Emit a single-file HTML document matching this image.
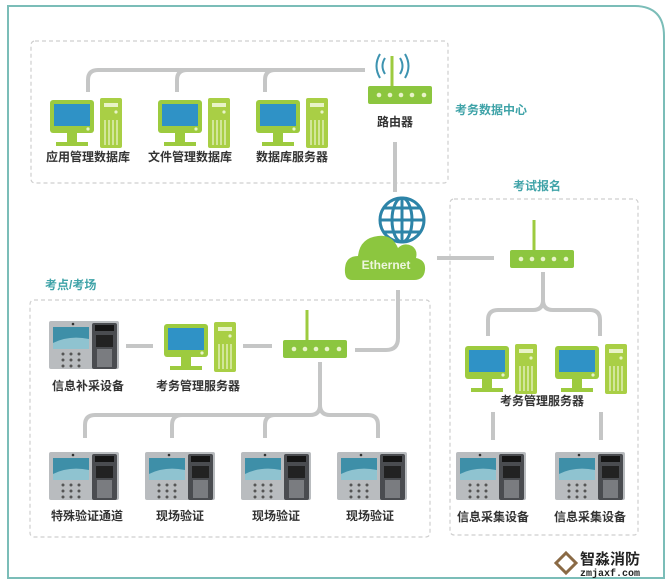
<!DOCTYPE html>
<html><head><meta charset="utf-8"><style>
html,body{margin:0;padding:0;background:#fff;}
svg{display:block;}
text{font-family:"Liberation Sans","Noto Sans CJK SC",sans-serif;}
text.mono{font-family:"Liberation Mono",monospace;}
</style></head><body>
<svg width="672" height="584" viewBox="0 0 672 584" xmlns="http://www.w3.org/2000/svg">
<defs>
<g id="pc">
 <rect x="0" y="0" width="44" height="33" rx="3" fill="#9dcb3f"/>
 <rect x="4" y="4" width="36" height="22" fill="#2f92c6"/>
 <circle cx="38" cy="29" r="1.6" fill="#e8f3c8"/>
 <rect x="17" y="33" width="10" height="9" fill="#9dcb3f"/>
 <rect x="6" y="42" width="32" height="4" fill="#9dcb3f"/>
 <rect x="50" y="-2" width="22" height="50" rx="2" fill="#a9cf45"/>
 <rect x="54" y="3" width="14" height="4" fill="#e8f3c8"/>
 <circle cx="66" cy="12" r="1.6" fill="#e8f3c8"/>
 <line x1="55" y1="20" x2="55" y2="45" stroke="#e8f3c8" stroke-width="1.3"/>
 <line x1="59" y1="20" x2="59" y2="45" stroke="#e8f3c8" stroke-width="1.3"/>
 <line x1="63" y1="20" x2="63" y2="45" stroke="#e8f3c8" stroke-width="1.3"/>
 <line x1="67" y1="20" x2="67" y2="45" stroke="#e8f3c8" stroke-width="1.3"/>
</g>
<g id="router">
 <line x1="24" y1="-30" x2="24" y2="0" stroke="#9dcb3f" stroke-width="3"/>
 <rect x="0" y="0" width="64" height="18" rx="2" fill="#8cc63f"/>
 <circle cx="11" cy="9" r="2.3" fill="#e8f3c8"/>
 <circle cx="22" cy="9" r="2.3" fill="#e8f3c8"/>
 <circle cx="33" cy="9" r="2.3" fill="#e8f3c8"/>
 <circle cx="44" cy="9" r="2.3" fill="#e8f3c8"/>
 <circle cx="56" cy="9" r="2.3" fill="#e8f3c8"/>
</g>
<g id="dev">
 <rect x="0" y="0" width="70" height="48" rx="2" fill="#b9bcbf"/>
 <rect x="4" y="6" width="36" height="22" fill="#3e8fa8"/>
 <path d="M4 22 Q20 14 40 18 L40 28 L4 28Z" fill="#8fc3d0"/>
 <circle cx="24" cy="3" r="1.3" fill="#333"/>
 <rect x="43" y="2" width="25" height="46" rx="2" fill="#4a4c50"/>
 <rect x="46" y="4" width="19" height="6" fill="#151515"/>
 <rect x="47" y="14" width="17" height="12" fill="#222"/>
 <rect x="48" y="28" width="15" height="18" fill="#7a7c80"/>
 <g fill="#555">
  <circle cx="14" cy="33" r="1.5"/><circle cx="22" cy="33" r="1.5"/><circle cx="30" cy="33" r="1.5"/>
  <circle cx="14" cy="39" r="1.5"/><circle cx="22" cy="39" r="1.5"/><circle cx="30" cy="39" r="1.5"/>
  <circle cx="14" cy="45" r="1.5"/><circle cx="22" cy="45" r="1.5"/><circle cx="30" cy="45" r="1.5"/>
 </g>
</g>
</defs>

<path d="M8 6 H634 Q664 6 664 36 V578 H8 Z" fill="none" stroke="#7bbdb8" stroke-width="2"/>

<g fill="none" stroke="#cfcfcf" stroke-width="1.2" stroke-dasharray="4,3">
 <rect x="31" y="41" width="417" height="142" rx="4"/>
 <rect x="30" y="300" width="400" height="237" rx="4"/>
 <rect x="450" y="199" width="188" height="336" rx="4"/>
</g>

<g fill="none" stroke="#c5c6c6" stroke-width="4" stroke-linecap="butt">
 <path d="M88 92 V80 Q88 70 98 70 H365"/>
 <path d="M177 92 V80 Q177 70 187 70"/>
 <path d="M265 92 V80 Q265 70 275 70"/>
 <path d="M395 142 V192"/>
 <path d="M437 258 H494"/>
 <path d="M543 272 V300 Q543 310 533 310 H498 Q488 310 488 320 V336"/>
 <path d="M543 300 Q543 310 553 310 H590 Q600 310 600 320 V336"/>
 <path d="M493 412 V440"/>
 <path d="M601 412 V440"/>
 <path d="M398 290 V338 Q398 350 386 350 H355"/>
 <path d="M126 346 H153"/>
 <path d="M243 346 H272"/>
 <path d="M320 362 V405 Q320 415 310 415 H95 Q85 415 85 425 V438"/>
 <path d="M320 405 Q320 415 330 415 H368 Q378 415 378 425 V438"/>
 <path d="M172 438 V425 Q172 415 182 415"/>
 <path d="M265 438 V425 Q265 415 275 415"/>
</g>

<use href="#pc" x="50" y="100"/>
<use href="#pc" x="158" y="100"/>
<use href="#pc" x="256" y="100"/>
<use href="#router" x="368" y="86"/>
<g fill="none" stroke="#3d93b0" stroke-width="2">
 <path d="M385 58 Q380 66 385 74"/><path d="M380 54 Q373 66 380 78"/>
 <path d="M400 58 Q405 66 400 74"/><path d="M405 54 Q412 66 405 78"/>
</g>
<g font-size="12" font-weight="bold" fill="#333" text-anchor="middle">
 <text x="88" y="161">应用管理数据库</text>
 <text x="190" y="161">文件管理数据库</text>
 <text x="292" y="161">数据库服务器</text>
 <text x="395" y="126">路由器</text>
</g>
<g font-size="12" font-weight="bold" fill="#3fa3a8">
 <text x="455" y="114">考务数据中心</text>
 <text x="513" y="190">考试报名</text>
 <text x="45" y="289">考点/考场</text>
</g>

<g fill="none" stroke="#2d84a8" stroke-width="3">
 <circle cx="402" cy="220" r="22"/>
 <ellipse cx="402" cy="220" rx="10" ry="22"/>
 <line x1="402" y1="198" x2="402" y2="242"/>
 <line x1="380" y1="220" x2="424" y2="220"/>
 <line x1="384" y1="208" x2="420" y2="208"/>
 <line x1="384" y1="232" x2="420" y2="232"/>
</g>
<path d="M352 280 Q344 280 345 268 Q346 256 358 256 Q360 238 378 236 Q392 234 398 248 Q404 242 412 246 Q418 250 416 258 Q426 260 425 270 Q424 280 414 280 Z" fill="#8cc63f"/>
<text x="386" y="269" font-size="12" font-weight="bold" fill="#eef6de" text-anchor="middle">Ethernet</text>

<use href="#router" x="510" y="250"/>
<use href="#pc" x="465" y="346"/>
<use href="#pc" x="555" y="346"/>
<text x="542" y="405" font-size="12" font-weight="bold" fill="#333" text-anchor="middle">考务管理服务器</text>
<use href="#dev" x="456" y="452"/>
<use href="#dev" x="555" y="452"/>
<g font-size="12" font-weight="bold" fill="#333" text-anchor="middle">
 <text x="493" y="521">信息采集设备</text>
 <text x="590" y="521">信息采集设备</text>
</g>

<use href="#dev" x="49" y="321"/>
<use href="#pc" x="164" y="324"/>
<use href="#router" x="283" y="340"/>
<use href="#dev" x="49" y="452"/>
<use href="#dev" x="145" y="452"/>
<use href="#dev" x="241" y="452"/>
<use href="#dev" x="337" y="452"/>
<g font-size="12" font-weight="bold" fill="#333" text-anchor="middle">
 <text x="88" y="390">信息补采设备</text>
 <text x="198" y="390">考务管理服务器</text>
 <text x="87" y="520">特殊验证通道</text>
 <text x="180" y="520">现场验证</text>
 <text x="276" y="520">现场验证</text>
 <text x="370" y="520">现场验证</text>
</g>

<path d="M566 553 L576 563 L566 573 L556 563 Z" fill="none" stroke="#8a6a45" stroke-width="3"/>
<text x="580" y="564" font-size="15" font-weight="bold" fill="#222">智淼消防</text>
<text class="mono" x="580" y="576" font-size="10" font-weight="bold" fill="#222">zmjaxf.com</text>
</svg>
</body></html>
